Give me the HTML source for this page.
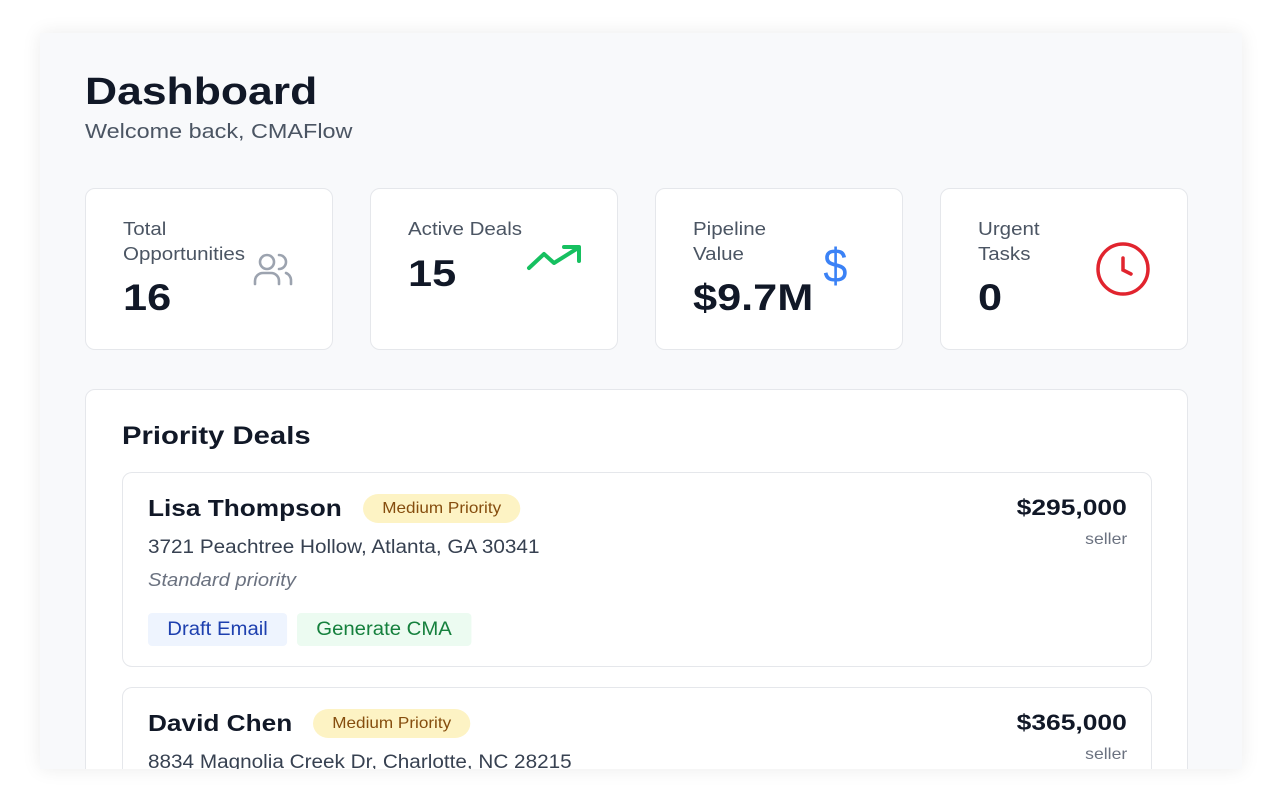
<!DOCTYPE html>
<html><head><style>
*{margin:0;padding:0;box-sizing:border-box}
body{width:1280px;height:800px;background:#fff;font-family:"Liberation Sans",sans-serif;position:relative;overflow:hidden}
.win{position:absolute;left:40px;top:33px;width:1202px;height:736px;background:#f8f9fb;box-shadow:0 0 18px rgba(0,0,0,0.08);overflow:hidden}
.abs{position:absolute}
.sx{transform:scaleX(1.17);transform-origin:left center}
.sl{transform:scaleX(1.14);transform-origin:left center}
.sxr{transform:scaleX(1.2);transform-origin:right center}
h1{position:absolute;left:45px;top:38px;font-size:38px;font-weight:bold;color:#111827}
.sub{left:45px;top:88px;font-size:20px;color:#4b5563}
.card{position:absolute;top:155px;width:248px;height:162px;background:#fff;border:1px solid #e5e7eb;border-radius:10px}
.lbl{position:absolute;left:37px;top:28px;font-size:18px;line-height:25px;color:#4b5563}
.val{position:absolute;left:37px;font-size:37px;font-weight:bold;color:#111827}
.panel{position:absolute;left:45px;top:356px;width:1103px;height:400px;background:#fff;border:1px solid #e5e7eb;border-radius:10px}
.deal{position:absolute;left:36px;width:1030px;height:195px;border:1px solid #e5e7eb;border-radius:10px;background:#fff}
.name{position:absolute;left:25px;top:22px;font-size:23px;font-weight:bold;color:#111827;transform:scaleX(1.14);transform-origin:left center}
.badge{position:absolute;top:21px;height:29px;padding:0 18px;border-radius:15px;background:#fdf3c4;color:#854d0e;font-size:16px;line-height:29px;transform:scaleX(1.07);transform-origin:left center}
.addr{position:absolute;left:25px;top:64px;font-size:19px;color:#374151;transform:scaleX(1.09);transform-origin:left center}
.note{position:absolute;left:25px;top:97px;font-size:18px;font-style:italic;color:#6b7280;transform:scaleX(1.12);transform-origin:left center}
.btn{position:absolute;top:140px;height:33px;padding:0 18px;border-radius:4px;font-size:19px;line-height:33px;transform:scaleX(1.07);transform-origin:left center}
.price{position:absolute;right:24px;top:22px;font-size:22px;font-weight:bold;color:#111827}
.role{position:absolute;right:24px;top:58px;font-size:16px;color:#6b7280;transform:scaleX(1.1);transform-origin:right center}
</style></head><body>
<div class="win">
<h1 class="sx">Dashboard</h1>
<div class="abs sub sx">Welcome back, CMAFlow</div>

<div class="card" style="left:45px">
<div class="lbl sl">Total<br>Opportunities</div>
<div class="val sx" style="top:88px">16</div>
<svg class="abs" style="left:166px;top:62px" width="44" height="36" viewBox="0 0 44 36" fill="none" stroke="#9ca3af" stroke-width="2.6" stroke-linecap="round"><circle cx="15" cy="11" r="7"/><path d="M3 33 v-3 a8 8 0 0 1 8-8 h8 a8 8 0 0 1 8 8 v3"/><path d="M27 4 a7 7 0 0 1 0 14"/><path d="M34 22 a8 8 0 0 1 5 8 v3"/></svg>
</div>
<div class="card" style="left:330px">
<div class="lbl sl">Active Deals</div>
<div class="val sx" style="top:64px">15</div>
<svg class="abs" style="left:155px;top:55px" width="58" height="28" viewBox="0 0 58 28" fill="none" stroke="#16c060" stroke-width="4" stroke-linecap="round" stroke-linejoin="round"><path d="M3 24 L18 10 L28 19 L52 4"/><path d="M38 3 H53 V17"/></svg>
</div>
<div class="card" style="left:615px">
<div class="lbl sl">Pipeline<br>Value</div>
<div class="val sx" style="top:88px">$9.7M</div>
<div class="abs" style="left:166px;top:50px;font-size:48px;color:#3b82f6;transform:scaleX(0.9)">$</div>
</div>
<div class="card" style="left:900px">
<div class="lbl sl">Urgent<br>Tasks</div>
<div class="val sx" style="top:88px">0</div>
<svg class="abs" style="left:154px;top:52px" width="60" height="56" viewBox="0 0 60 56" fill="none" stroke="#e1242e" stroke-width="3.5" stroke-linecap="round"><circle cx="28" cy="28" r="25"/><path d="M28 17 V29 L36 33"/></svg>
</div>

<div class="panel">
<div class="abs sx" style="left:36px;top:32px;font-size:25px;font-weight:bold;color:#111827">Priority Deals</div>
<div class="deal" style="top:82px">
<div class="name">Lisa Thompson</div>
<div class="badge" style="left:240px">Medium Priority</div>
<div class="addr">3721 Peachtree Hollow, Atlanta, GA 30341</div>
<div class="note">Standard priority</div>
<div class="btn" style="left:25px;background:#eef4fe;color:#1e40af">Draft Email</div>
<div class="btn" style="left:174px;background:#ecfbf1;color:#15803d">Generate CMA</div>
<div class="price sxr">$295,000</div>
<div class="role">seller</div>
</div>
<div class="deal" style="top:297px">
<div class="name">David Chen</div>
<div class="badge" style="left:190px">Medium Priority</div>
<div class="addr">8834 Magnolia Creek Dr, Charlotte, NC 28215</div>
<div class="price sxr">$365,000</div>
<div class="role">seller</div>
</div>
</div>
</div>
</body></html>
